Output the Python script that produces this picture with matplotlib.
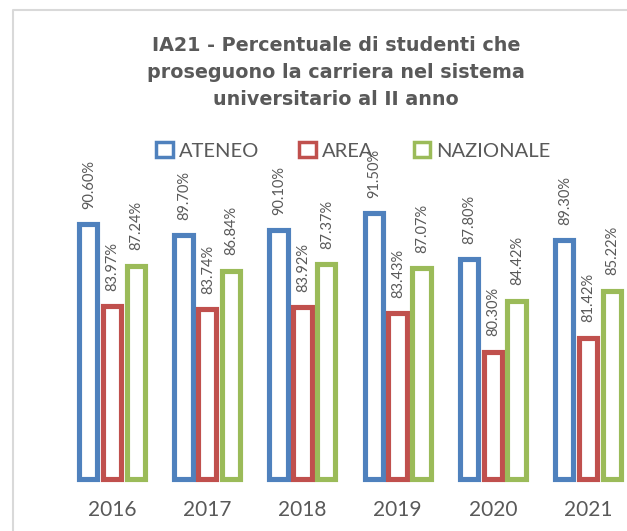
import matplotlib
matplotlib.use("Agg")
import matplotlib.pyplot as plt
from matplotlib.patches import Patch
from matplotlib.lines import Line2D
import numpy as np

# Data
years = ["2016", "2017", "2018", "2019", "2020", "2021"]
ateneo = [90.60, 89.70, 90.10, 91.50, 87.80, 89.30]
area = [83.97, 83.74, 83.92, 83.43, 80.30, 81.42]
nazionale = [87.24, 86.84, 87.37, 87.07, 84.42, 85.22]

series = [("ATENEO", ateneo, "#4F81BD"),
          ("AREA", area, "#C0504D"),
          ("NAZIONALE", nazionale, "#9BBB59")]

title = ("IA21 - Percentuale di studenti che\n"
         "proseguono la carriera nel sistema\n"
         "universitario al II anno")

plt.rcParams["font.family"] = ["Lato", "DejaVu Sans"]
text_color = "#595959"

W, H = 627, 531
fig = plt.figure(figsize=(W / 100, H / 100), dpi=100)

# outer chart frame: only left and top edges are visible (image is cropped)
fx, fy = 12.5 / W, 1 - 9.5 / H
fig.lines.append(Line2D([fx, fx, 1.0], [0.0, fy, fy], transform=fig.transFigure,
                        color="#D9D9D9", linewidth=1.5))

# plot area: categories 95.3 px apart, baseline (70%) at y=479 px
left, right = 64.4, 635.6
bottom_px, top_px = 479, 479 - 25 * 12.37
ax = fig.add_axes([left / W, 1 - bottom_px / H, (right - left) / W,
                   (bottom_px - top_px) / H])

x = np.arange(len(years))
width = 0.192
step = 0.25
for i, (name, vals, col) in enumerate(series):
    pos = x + (i - 1) * step
    ax.bar(pos, np.array(vals) - 70, bottom=70, width=width,
           facecolor="white", edgecolor=col, linewidth=3.7,
           clip_on=False, zorder=2)
    for xp, v in zip(pos, vals):
        ax.annotate(f"{v:.2f}%", (xp, v), xytext=(0.5, 11),
                    textcoords="offset points", rotation=90,
                    ha="center", va="bottom", fontsize=10.5,
                    color=text_color)

ax.set_xlim(-0.5, len(years) - 0.5)
ax.set_ylim(70, 95)
ax.set_xticks(x)
ax.set_xticklabels(years, fontsize=15, color=text_color)
ax.tick_params(axis="x", length=0, pad=15)
ax.set_yticks([])
for s in ax.spines.values():
    s.set_visible(False)
ax.patch.set_alpha(0)

fig.text(336 / W, 1 - 72.5 / H, title, ha="center", va="center",
         fontsize=13.8, fontweight="bold", color=text_color,
         family=["DejaVu Sans"], linespacing=1.55)

handles = [Patch(facecolor="white", edgecolor=c, linewidth=2.5, label=n)
           for n, _, c in series]
leg = fig.legend(handles=handles, loc="center left",
                 bbox_to_anchor=(156 / W, 1 - 151 / H), ncol=3,
                 frameon=False, fontsize=14.5, handlelength=0.82,
                 handleheight=0.75, handletextpad=0.3, columnspacing=2.0,
                 borderpad=0, borderaxespad=0)
for t in leg.get_texts():
    t.set_color(text_color)

fig.savefig("out.png", dpi=100)
